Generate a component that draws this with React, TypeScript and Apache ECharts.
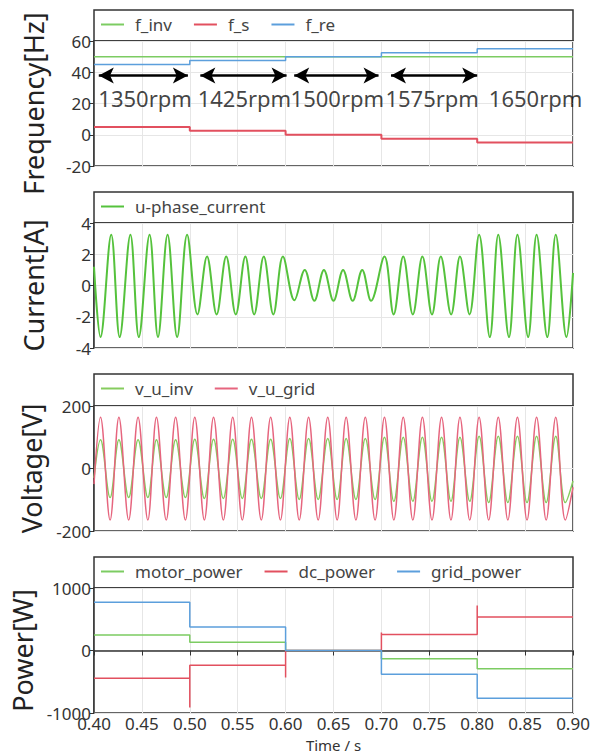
import React, { useEffect, useRef } from 'react';
import * as echarts from 'echarts';

// ---------- data ----------
const segmentEdges = [0.4, 0.5, 0.6, 0.7, 0.8, 0.9];
const fInvLevels = [50, 50, 50, 50, 50];
const fSLevels = [5, 2.5, 0, -2.5, -5];
const fReLevels = [45, 47.5, 50, 52.5, 55];

const rpmLabels = ['1350rpm', '1425rpm', '1500rpm', '1575rpm', '1650rpm'];
const rpmLabelTimes = [0.4533, 0.557, 0.654, 0.753, 0.861];
const rpmLabelLevel = 23.5;
const rpmArrowStarts = [0.405, 0.511, 0.609, 0.71, 0.813];
const rpmArrowEnds = [0.498, 0.601, 0.697, 0.8, 0.905];
const rpmArrowLevel = 38;

const currentTimes = [
  0.4, 0.4068, 0.418, 0.4268, 0.438, 0.4468, 0.458, 0.4668, 0.4768, 0.4868, 0.4972,
  0.508, 0.518, 0.528, 0.538, 0.548, 0.558, 0.5672, 0.5772, 0.5872, 0.5972,
  0.6092, 0.62, 0.63, 0.64, 0.65, 0.66, 0.67, 0.68, 0.6892,
  0.7032, 0.7128, 0.7228, 0.7328, 0.7428, 0.7528, 0.762, 0.7728, 0.782, 0.792,
  0.802, 0.8132, 0.822, 0.8332, 0.842, 0.8532, 0.862, 0.8732, 0.882, 0.8932, 0.9,
];
const currentValues = [
  1.2, -3.3, 3.25, -3.3, 3.25, -3.3, 3.25, -3.3, 3.25, -3.3, 3.25,
  -1.85, 1.85, -1.85, 1.85, -1.85, 1.85, -1.85, 1.85, -1.85, 1.85,
  -0.95, 1.0, -0.98, 1.0, -0.98, 1.0, -0.98, 1.0, -0.98,
  1.85, -1.85, 1.85, -1.85, 1.85, -1.85, 1.85, -1.85, 1.85, -1.85,
  3.25, -3.3, 3.25, -3.3, 3.25, -3.3, 3.25, -3.3, 3.25, -3.3, 0.8,
];

const voltageTimes = [
  0.4,
  0.4068, 0.4168, 0.426, 0.4362, 0.446, 0.4562, 0.4652, 0.4754, 0.4852, 0.4954,
  0.5052, 0.5152, 0.5248, 0.535, 0.5448, 0.5548, 0.5644, 0.5746, 0.5844, 0.5946,
  0.6044, 0.6142, 0.624, 0.634, 0.644, 0.6538, 0.6632, 0.6734, 0.6832, 0.6934,
  0.7032, 0.713, 0.7228, 0.7328, 0.7428, 0.7528, 0.7628, 0.7726, 0.782, 0.7922,
  0.802, 0.812, 0.822, 0.832, 0.842, 0.852, 0.862, 0.872, 0.882, 0.892,
  0.9,
];
const vGridValues = [
  -50,
  164, -165, 164, -165, 164, -165, 164, -165, 164, -165,
  164, -165, 164, -165, 164, -165, 164, -165, 164, -165,
  164, -165, 164, -165, 164, -165, 164, -165, 164, -165,
  164, -165, 164, -165, 164, -165, 164, -165, 164, -165,
  164, -165, 164, -165, 164, -165, 164, -165, 164, -165,
  -60,
];
const vInvValues = [
  -30,
  92, -93, 92, -93, 92, -93, 92, -93, 92, -93,
  94, -96, 94, -96, 94, -96, 94, -96, 94, -96,
  96, -99, 96, -99, 96, -99, 96, -99, 96, -99,
  100, -105, 100, -105, 100, -105, 100, -105, 100, -105,
  103, -109, 103, -109, 103, -109, 103, -109, 103, -109,
  -40,
];

const motorPower = [
  [0.4, 248], [0.5, 248], [0.5, 133], [0.6, 133], [0.6, 0], [0.7, 0],
  [0.7, -133], [0.8, -133], [0.8, -293], [0.9, -293],
];
const dcPower = [
  [0.4, -443], [0.5, -443], [0.5, -910], [0.5, -235], [0.6, -235], [0.6, -430], [0.6, 0],
  [0.7, 0], [0.7, 290], [0.7, 255], [0.8, 255], [0.8, 720], [0.8, 537], [0.9, 537],
];
const gridPower = [
  [0.4, 773], [0.5, 773], [0.5, 376], [0.6, 376], [0.6, 0], [0.7, 0],
  [0.7, -379], [0.8, -379], [0.8, -763], [0.9, -763],
];

const yNames = ['Frequency[Hz]', 'Current[A]', 'Voltage[V]', 'Power[W]'];
const yMins = [-20, -4, -200, -1000];
const yMaxs = [60, 4, 200, 1000];
const yIntervals = [20, 2, 200, 1000];

// ---------- helpers ----------
const stepData = (levels: number[]) => {
  const d: number[][] = [];
  levels.forEach((v, i) => {
    d.push([segmentEdges[i], v]);
    d.push([segmentEdges[i + 1], v]);
  });
  return d;
};
const zip = (ts: number[], vs: number[]) => ts.map((t, i) => [t, vs[i]]);

const FONT = 'Noto Sans';
const GRID_LEFT = 94;
const GRID_RIGHT = 23;
const PLOT_W = 596 - GRID_LEFT - GRID_RIGHT;
const gridTops = [41, 223, 406, 588];
const boxTops = [10, 192, 374, 557];
const PLOT_H = 125;

const GREEN = '#7ccc62';
const RED = '#e2505f';
const BLUE = '#5c9fdc';

export default function App() {
  const ref = useRef<HTMLDivElement>(null);
  useEffect(() => {
    const chart = echarts.init(ref.current!, null, { renderer: 'svg' });

    const grids = gridTops.map((top) => ({
      left: GRID_LEFT,
      right: GRID_RIGHT,
      top,
      height: PLOT_H,
      show: true,
      borderColor: '#333',
      borderWidth: 1.5,
      backgroundColor: 'transparent',
    }));

    const xAxes = gridTops.map((_, i) => {
      const last = i === gridTops.length - 1;
      return {
        type: 'value',
        gridIndex: i,
        min: 0.4,
        max: 0.9,
        interval: 0.05,
        axisLine: { show: last, lineStyle: { color: '#333', width: 1.5 } },
        axisTick: { show: last, length: 5, lineStyle: { color: '#333' } },
        axisLabel: {
          show: last,
          formatter: (v: number) => v.toFixed(2),
          fontSize: 17,
          color: '#333',
          margin: 2,
          fontFamily: FONT,
        },
        splitLine: { show: true, lineStyle: { color: '#e6e6e6', width: 1 } },
        name: last ? 'Time / s' : '',
        nameLocation: 'middle',
        nameGap: 24,
        nameTextStyle: { fontSize: 15, color: '#333', fontFamily: FONT },
      };
    });

    const yAxes = gridTops.map((_, i) => ({
      type: 'value',
      gridIndex: i,
      min: yMins[i],
      max: yMaxs[i],
      interval: yIntervals[i],
      axisLine: { show: true, lineStyle: { color: '#333', width: 1.5 } },
      axisTick: { show: true, length: 4, lineStyle: { color: '#333' } },
      axisLabel: {
        fontSize: 17,
        color: '#333',
        margin: 3,
        fontFamily: FONT,
        formatter: (v: number) => String(v),
      },
      splitLine: { show: true, lineStyle: { color: '#e6e6e6', width: 1 } },
      name: yNames[i],
      nameLocation: 'middle',
      nameGap: 47,
      nameTextStyle: { fontSize: 27, color: '#222', fontFamily: FONT },
    }));

    const lineBase = {
      type: 'line',
      showSymbol: false,
      symbol: 'none',
      animation: false,
    };

    const series: any[] = [
      { ...lineBase, name: 'f_inv', xAxisIndex: 0, yAxisIndex: 0, data: stepData(fInvLevels), color: GREEN, lineStyle: { width: 1.5 } },
      { ...lineBase, name: 'f_s', xAxisIndex: 0, yAxisIndex: 0, data: stepData(fSLevels), color: RED, lineStyle: { width: 2 } },
      { ...lineBase, name: 'f_re', xAxisIndex: 0, yAxisIndex: 0, data: stepData(fReLevels), color: BLUE, lineStyle: { width: 1.5 } },
      {
        type: 'scatter',
        name: 'rpm',
        xAxisIndex: 0,
        yAxisIndex: 0,
        symbolSize: 0,
        clip: false,
        data: rpmLabels.map((l, i) => [rpmLabelTimes[i], rpmLabelLevel, l]),
        label: {
          show: true,
          position: 'inside',
          formatter: (p: any) => p.value[2],
          fontSize: 22,
          color: '#111',
          fontFamily: FONT,
        },
        markLine: {
          silent: true,
          symbol: ['arrow', 'arrow'],
          symbolSize: [12, 15],
          label: { show: false },
          lineStyle: { color: '#000', width: 2.5, type: 'solid' },
          data: rpmArrowStarts.map((s, i) => [
            { coord: [s, rpmArrowLevel] },
            { coord: [rpmArrowEnds[i], rpmArrowLevel] },
          ]),
        },
      },
      { ...lineBase, name: 'u-phase_current', xAxisIndex: 1, yAxisIndex: 1, smooth: 0.36, data: zip(currentTimes, currentValues), color: '#55c23c', lineStyle: { width: 2 } },
      { ...lineBase, name: 'v_u_inv', xAxisIndex: 2, yAxisIndex: 2, smooth: 0.36, data: zip(voltageTimes, vInvValues), color: '#86cc5e', lineStyle: { width: 1.5 } },
      { ...lineBase, name: 'v_u_grid', xAxisIndex: 2, yAxisIndex: 2, smooth: 0.36, data: zip(voltageTimes, vGridValues), color: '#e6657e', lineStyle: { width: 1.5 } },
      { ...lineBase, name: 'motor_power', xAxisIndex: 3, yAxisIndex: 3, data: motorPower, color: GREEN, lineStyle: { width: 1.5 } },
      { ...lineBase, name: 'dc_power', xAxisIndex: 3, yAxisIndex: 3, data: dcPower, color: RED, lineStyle: { width: 1.5 } },
      { ...lineBase, name: 'grid_power', xAxisIndex: 3, yAxisIndex: 3, data: gridPower, color: BLUE, lineStyle: { width: 1.5 } },
    ];

    const legendNames = [
      ['f_inv', 'f_s', 'f_re'],
      ['u-phase_current'],
      ['v_u_inv', 'v_u_grid'],
      ['motor_power', 'dc_power', 'grid_power'],
    ];
    const legends = legendNames.map((names, i) => ({
      data: names,
      left: 101,
      top: boxTops[i] + 6,
      padding: 0,
      icon: 'rect',
      itemWidth: 23,
      itemHeight: 2,
      itemGap: 22,
      selectedMode: false,
      textStyle: { fontSize: 17, color: '#444', fontFamily: FONT, padding: [0, 0, 0, 6] },
    }));

    const graphic = boxTops.map((y, i) => ({
      type: 'rect',
      shape: { x: GRID_LEFT, y, width: PLOT_W, height: gridTops[i] - y },
      style: { fill: 'none', stroke: '#333', lineWidth: 1.5 },
      silent: true,
    }));

    chart.setOption({
      animation: false,
      backgroundColor: '#fff',
      textStyle: { fontFamily: FONT },
      grid: grids,
      xAxis: xAxes,
      yAxis: yAxes,
      legend: legends,
      series,
      graphic,
    });
    return () => chart.dispose();
  }, []);
  return (
    <div
      ref={ref}
      style={{ position: 'absolute', left: 0, top: 0, width: 596, height: 753, background: '#fff' }}
    />
  );
}
